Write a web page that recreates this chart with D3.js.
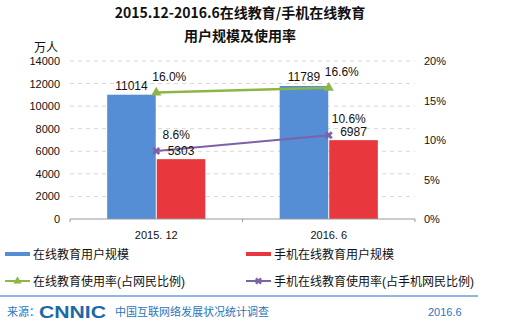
<!DOCTYPE html>
<html><head><meta charset="utf-8">
<script src="https://cdn.jsdelivr.net/npm/d3@7"></script>
<style>
html,body{margin:0;padding:0;background:#fff;}
svg{display:block;}
text{font-family:"Liberation Sans",Arial,"Noto Sans CJK SC",sans-serif;}
.cjk{font-family:"Noto Sans CJK SC","Liberation Sans",sans-serif;}
</style></head>
<body>
<svg id="chart" width="508" height="330"></svg>
<script>
const categories = ["2015. 12", "2016. 6"];
const onlineUsers = [11014, 11789];
const mobileUsers = [5303, 6987];
const onlineRate = [16.0, 16.6];
const mobileRate = [8.6, 10.6];
const leftTicks = [0, 2000, 4000, 6000, 8000, 10000, 12000, 14000];
const rightTicks = [0, 5, 10, 15, 20];
const seriesNames = ["在线教育用户规模", "手机在线教育用户规模", "在线教育使用率(占网民比例)", "手机在线教育使用率(占手机网民比例)"];

const svg = d3.select("#chart");
const C = {blue:"#558ED5", red:"#E8383D", green:"#8DB646", purple:"#7E62A8", grid:"#d6d6d6"};
const L = 70, R = 415, T = 61, B = 219;

// title
svg.append("text").attr("class","cjk").attr("x",240).attr("y",18).attr("text-anchor","middle")
  .attr("font-size",14).attr("font-weight","bold").attr("fill","#111").text("2015.12-2016.6在线教育/手机在线教育");
svg.append("text").attr("class","cjk").attr("x",240).attr("y",41).attr("text-anchor","middle")
  .attr("font-size",14).attr("font-weight","bold").attr("fill","#111").text("用户规模及使用率");
svg.append("text").attr("class","cjk").attr("x",46).attr("y",52).attr("text-anchor","middle")
  .attr("font-size",12).attr("fill","#111").text("万人");

const x = d3.scaleBand().domain(categories).range([L, R]).padding(0);
const yL = d3.scaleLinear().domain([0, 14000]).range([B, T]);
const yR = d3.scaleLinear().domain([0, 20]).range([B, T]);

// gridlines
svg.append("g").selectAll("line").data(leftTicks.slice(1)).join("line")
  .attr("x1", L).attr("x2", R).attr("y1", d => yL(d)).attr("y2", d => yL(d))
  .attr("stroke", C.grid).attr("stroke-dasharray","4,4");

// left axis
const ga = svg.append("g").attr("transform",`translate(${L},0)`)
  .call(d3.axisLeft(yL).tickValues(leftTicks).tickSize(0).tickPadding(10).tickFormat(d3.format("d")));
ga.select(".domain").remove();
ga.selectAll("text").attr("font-size",11).attr("fill","#111").attr("font-family","Liberation Sans, Arial, sans-serif");

// right axis
const gr = svg.append("g").attr("transform",`translate(${R},0)`)
  .call(d3.axisRight(yR).tickValues(rightTicks).tickSize(0).tickPadding(9).tickFormat(d => d + "%"));
gr.select(".domain").remove();
gr.selectAll("text").attr("font-size",11).attr("fill","#111").attr("font-family","Liberation Sans, Arial, sans-serif");

// bars
const inner = d3.scaleBand().domain(["a","b"]).range([0, x.bandwidth()]).paddingInner(0.02).paddingOuter(0.75);
const bars = svg.append("g");
categories.forEach((c, i) => {
  bars.append("rect").attr("x", x(c) + inner("a")).attr("width", inner.bandwidth())
    .attr("y", yL(onlineUsers[i])).attr("height", yL(0) - yL(onlineUsers[i])).attr("fill", C.blue);
  bars.append("rect").attr("x", x(c) + inner("b")).attr("width", inner.bandwidth())
    .attr("y", yL(mobileUsers[i])).attr("height", yL(0) - yL(mobileUsers[i])).attr("fill", C.red);
});

// x axis
const gx = svg.append("g").attr("transform",`translate(0,${B})`)
  .call(d3.axisBottom(x).tickSize(0).tickPadding(12));
gx.select(".domain").attr("stroke","#999").attr("d",`M${L},3V0H${R}V3`);
gx.append("line").attr("x1", x(categories[1])).attr("x2", x(categories[1])).attr("y1",0).attr("y2",3).attr("stroke","#999");
gx.selectAll("text").attr("font-size",11).attr("fill","#111").attr("font-family","Liberation Sans, Arial, sans-serif");

// lines
const cx = c => x(c) + x.bandwidth()/2;
const line = d3.line().x(d => cx(d[0])).y(d => yR(d[1]));
const gData = categories.map((c,i) => [c, onlineRate[i]]);
const pData = categories.map((c,i) => [c, mobileRate[i]]);
svg.append("path").attr("d", line(gData)).attr("fill","none").attr("stroke",C.green).attr("stroke-width",2.5);
svg.append("path").attr("d", line(pData)).attr("fill","none").attr("stroke",C.purple).attr("stroke-width",2);
const tri = d3.symbol().type(d3.symbolTriangle).size(45);
svg.append("g").selectAll("path").data(gData).join("path")
  .attr("transform", d => `translate(${cx(d[0])},${yR(d[1])})`).attr("d", tri()).attr("fill", C.green);
svg.append("g").selectAll("path").data(pData).join("path")
  .attr("d", d3.symbol().type(d3.symbolCross).size(40)()).attr("fill", C.purple)
  .attr("transform", d => `translate(${cx(d[0])},${yR(d[1])}) rotate(45)`);

// data labels
const lab = svg.append("g").attr("font-size",12).attr("fill","#111").attr("font-family","Liberation Sans, Arial, sans-serif");
categories.forEach((c, i) => {
  lab.append("text").attr("x", x(c) + inner("a") + inner.bandwidth()/2).attr("y", yL(onlineUsers[i]) - 5)
    .attr("text-anchor","middle").text(onlineUsers[i]);
  lab.append("text").attr("x", x(c) + inner("b") + inner.bandwidth()/2).attr("y", yL(mobileUsers[i]) - 4)
    .attr("text-anchor","middle").text(mobileUsers[i]);
  lab.append("text").attr("x", cx(c) + 13).attr("y", yR(onlineRate[i]) - 12)
    .attr("text-anchor","middle").text(onlineRate[i].toFixed(1) + "%");
  lab.append("text").attr("x", cx(c) + 20).attr("y", yR(mobileRate[i]) - 12)
    .attr("text-anchor","middle").text(mobileRate[i].toFixed(1) + "%");
});

// legend
const leg = svg.append("g").attr("class","cjk").attr("font-size",12).attr("fill","#111");
const lpos = [[5,254],[246,254],[5,281],[246,281]];
const lcol = [C.blue, C.red, C.green, C.purple];
seriesNames.forEach((n, i) => {
  const [lx, ly] = lpos[i];
  const g = leg.append("g");
  if (i < 2) {
    g.append("line").attr("x1",lx).attr("x2",lx+25).attr("y1",ly).attr("y2",ly).attr("stroke",lcol[i]).attr("stroke-width",4);
  } else {
    g.append("line").attr("x1",lx).attr("x2",lx+25).attr("y1",ly).attr("y2",ly).attr("stroke",lcol[i]).attr("stroke-width",2);
    if (i === 2) g.append("path").attr("transform",`translate(${lx+12.5},${ly})`).attr("d", d3.symbol().type(d3.symbolTriangle).size(30)()).attr("fill",lcol[i]);
    else g.append("path").attr("transform",`translate(${lx+12.5},${ly}) rotate(45)`).attr("d", d3.symbol().type(d3.symbolCross).size(30)()).attr("fill",lcol[i]);
  }
  g.append("text").attr("x", lx+28).attr("y", ly+4.5).text(n);
});

// footer
svg.append("line").attr("x1",0).attr("x2",478).attr("y1",296).attr("y2",296).attr("stroke","#6a9fd8").attr("stroke-width",1.5);
svg.append("text").attr("class","cjk").attr("x",7).attr("y",316).attr("font-size",11).attr("fill","#2a75bb").text("来源：");
svg.append("text").attr("x",39).attr("y",318).attr("font-size",17).attr("font-weight","bold").attr("fill","#1b6aa5")
  .attr("textLength",67).attr("lengthAdjust","spacingAndGlyphs").text("CNNIC");
svg.append("text").attr("class","cjk").attr("x",115).attr("y",316).attr("font-size",11).attr("fill","#2a75bb").text("中国互联网络发展状况统计调查");
svg.append("text").attr("x",428).attr("y",316).attr("font-size",11).attr("fill","#2a75bb").text("2016.6");
</script>
</body></html>
